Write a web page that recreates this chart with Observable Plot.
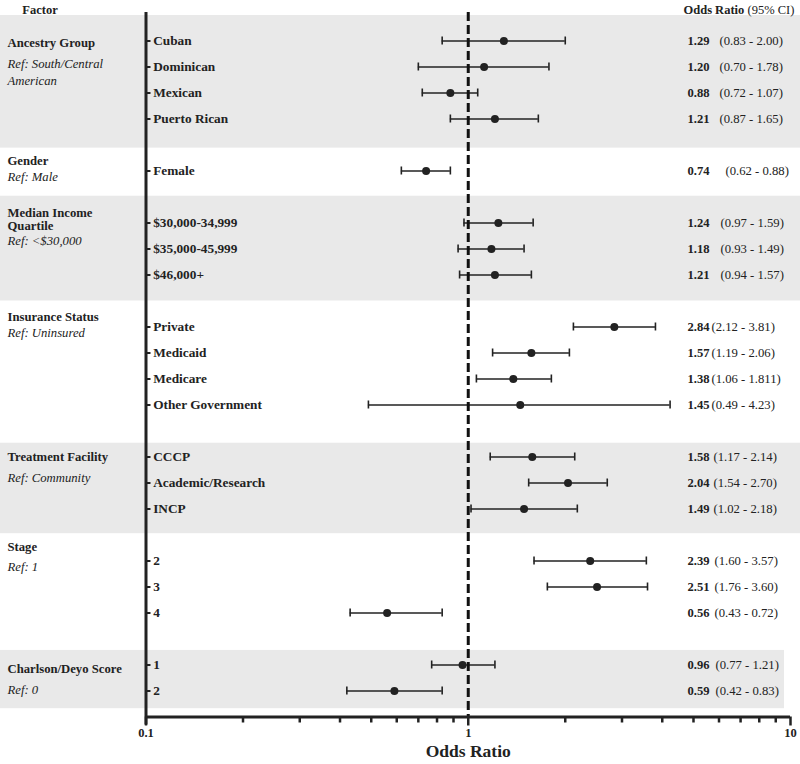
<!DOCTYPE html>
<html>
<head>
<meta charset="utf-8">
<script src="https://cdn.jsdelivr.net/npm/d3@7"></script>
<script src="https://cdn.jsdelivr.net/npm/@observablehq/plot@0.6"></script>
<style>
  html, body { margin: 0; padding: 0; background: #fff; }
  #chart svg { display: block; }
</style>
</head>
<body>
<div id="chart"></div>
<script>
// ---------------- data ----------------
const groupNames = ["Ancestry Group", "Gender", "Median Income\nQuartile", "Insurance Status",
  "Treatment Facility", "Stage", "Charlson/Deyo Score"];
const groupRefs = ["Ref: South/Central\nAmerican", "Ref: Male", "Ref: <$30,000", "Ref: Uninsured",
  "Ref: Community", "Ref: 1", "Ref: 0"];
const groupSizes = [4, 1, 3, 4, 3, 3, 2];
const categories = ["Cuban", "Dominican", "Mexican", "Puerto Rican", "Female",
  "$30,000-34,999", "$35,000-45,999", "$46,000+",
  "Private", "Medicaid", "Medicare", "Other Government",
  "CCCP", "Academic/Research", "INCP", "2", "3", "4", "1", "2"];
// values as drawn in the picture
const oddsRatio = [1.29, 1.12, 0.88, 1.21, 0.74, 1.24, 1.18, 1.21, 2.84, 1.57, 1.38, 1.45,
  1.58, 2.04, 1.49, 2.39, 2.51, 0.56, 0.96, 0.59];
const ciLow = [0.83, 0.70, 0.72, 0.88, 0.62, 0.97, 0.93, 0.94, 2.12, 1.19, 1.06, 0.49,
  1.17, 1.54, 1.02, 1.60, 1.76, 0.43, 0.77, 0.42];
const ciHigh = [2.00, 1.78, 1.07, 1.65, 0.88, 1.59, 1.49, 1.57, 3.81, 2.06, 1.811, 4.23,
  2.14, 2.70, 2.18, 3.57, 3.60, 0.83, 1.21, 0.83];
// printed labels
const orLabels = ["1.29", "1.20", "0.88", "1.21", "0.74", "1.24", "1.18", "1.21", "2.84", "1.57",
  "1.38", "1.45", "1.58", "2.04", "1.49", "2.39", "2.51", "0.56", "0.96", "0.59"];
const ciLabels = ["(0.83 - 2.00)", "(0.70 - 1.78)", "(0.72 - 1.07)", "(0.87 - 1.65)", "(0.62 - 0.88)",
  "(0.97 - 1.59)", "(0.93 - 1.49)", "(0.94 - 1.57)", "(2.12 - 3.81)", "(1.19 - 2.06)",
  "(1.06 - 1.811)", "(0.49 - 4.23)", "(1.17 - 2.14)", "(1.54 - 2.70)", "(1.02 - 2.18)",
  "(1.60 - 3.57)", "(1.76 - 3.60)", "(0.43 - 0.72)", "(0.77 - 1.21)", "(0.42 - 0.83)"];
const majorTicks = [0.1, 1, 10];
const xTickLabels = ["0.1", "1", "10"];
const minorTicks = [0.2, 0.3, 0.4, 0.5, 0.6, 0.7, 0.8, 0.9, 2, 3, 4, 5, 6, 7, 8, 9];

// ---------------- layout (row units) ----------------
const rows = [];
{
  let r = 0, k = 0;
  groupSizes.forEach((n, g) => {
    for (let j = 0; j < n; j++, k++, r++) {
      rows.push({g, row: r, cat: categories[k], or: oddsRatio[k], lo: ciLow[k], hi: ciHigh[k],
        orLabel: orLabels[k], ciLabel: ciLabels[k]});
    }
    r++; // blank row between groups
  });
}
const bands = [
  {g: 0, y1: -0.98, y2: 4.12},
  {g: 2, y1: 5.97, y2: 10.0},
  {g: 4, y1: 15.47, y2: 18.95},
  {g: 6, y1: 23.44, y2: 25.68}
];
const titleRows = [0.085, 4.596, 6.846, 10.596, 15.98, 19.44, 24.13];
const refRows = [1.154, 5.173, 7.635, 11.162, 16.738, 20.17, 24.89];
const ciDx = [-71, -65, -70, -79, -77, -76, -75];
const groupLabels = groupNames.map((name, g) => ({g, name, ref: groupRefs[g], t: titleRows[g], r: refRows[g]}));

const yDomain = [-1.096, 26.0];
const ink = "#222";
const serif = "Liberation Serif, Times New Roman, serif";

const textBase = {fontFamily: serif, fill: ink};

const marks = [
  // shaded bands
  Plot.rect(bands.filter(d => d.g !== 6), {y1: "y1", y2: "y2", fill: "#e9e9e9", insetLeft: -145.5, insetRight: -10}),
  Plot.rect(bands.filter(d => d.g === 6), {y1: "y1", y2: "y2", fill: "#e9e9e9", insetLeft: -145.5, insetRight: 6}),
  // error bars
  Plot.ruleY(rows, {y: "row", x1: "lo", x2: "hi", stroke: ink, strokeWidth: 1.6}),
  Plot.ruleX(rows, {x: "lo", y1: "row", y2: "row", insetTop: -4, insetBottom: -4, stroke: ink, strokeWidth: 1.6}),
  Plot.ruleX(rows, {x: "hi", y1: "row", y2: "row", insetTop: -4, insetBottom: -4, stroke: ink, strokeWidth: 1.6}),
  // reference line at 1
  Plot.ruleX([1], {stroke: "#111", strokeWidth: 3, strokeDasharray: "9,4"}),
  // points
  Plot.dot(rows, {x: "or", y: "row", r: 4, fill: ink, stroke: "none"}),
  // axes
  Plot.ruleX([0.1], {stroke: ink, strokeWidth: 3, insetBottom: -8}),
  Plot.ruleY([yDomain[1]], {stroke: ink, strokeWidth: 3}),
  Plot.axisX({ticks: minorTicks, tickSize: 6, strokeWidth: 2.5, stroke: ink, tickFormat: () => ""}),
  Plot.axisX({ticks: majorTicks, tickSize: 9, strokeWidth: 2.5, stroke: ink, tickPadding: 2,
    tickFormat: d => xTickLabels[majorTicks.indexOf(d)], fontFamily: serif, fontSize: 12.5, fontWeight: "bold", fill: ink}),
  Plot.ruleY(rows, {y: "row", x1: () => 0.1, x2: () => 0.1, insetRight: -5, stroke: ink, strokeWidth: 2}),
  // x-axis title
  Plot.text(["Odds Ratio"], {x: () => 1, frameAnchor: "bottom", dy: 39.5, text: d => d, ...textBase, fontSize: 17.5, fontWeight: "bold"}),
  // category labels
  Plot.text(rows, {y: "row", text: "cat", frameAnchor: "left", dx: 7.2, textAnchor: "start", ...textBase, fontSize: 13.3, fontWeight: "bold"}),
  // group titles and refs
  Plot.text(groupLabels, {y: "t", text: "name", frameAnchor: "left", dx: -138.5, textAnchor: "start", lineHeight: 1.03, ...textBase, fontSize: 12.7, fontWeight: "bold"}),
  Plot.text(groupLabels, {y: "r", text: "ref", frameAnchor: "left", dx: -138.5, textAnchor: "start", lineHeight: 1.34, ...textBase, fontSize: 12.7, fontStyle: "italic"}),
  // odds ratio labels
  Plot.text(rows, {y: "row", text: "orLabel", frameAnchor: "right", dx: -103, textAnchor: "start", ...textBase, fontSize: 12.6, fontWeight: "bold"}),
  ...ciDx.map((dx, g) => Plot.text(rows.filter(d => d.g === g), {y: "row", text: "ciLabel", frameAnchor: "right", dx, textAnchor: "start", ...textBase, fontSize: 12.7})),
  // headers
  Plot.text(["Factor"], {frameAnchor: "top-left", dx: -106, dy: -7, text: d => d, textAnchor: "middle", ...textBase, fontSize: 12.5, fontWeight: "bold"}),
  Plot.text(["Odds Ratio"], {frameAnchor: "top-right", dx: -107, dy: -7, text: d => d, textAnchor: "start", ...textBase, fontSize: 12.5, fontWeight: "bold"}),
  Plot.text(["(95% CI)"], {frameAnchor: "top-right", dx: -43, dy: -7, text: d => d, textAnchor: "start", ...textBase, fontSize: 12.5})
];

const chart = Plot.plot({
  width: 800,
  height: 764,
  marginLeft: 145.5,
  marginRight: 10,
  marginTop: 12,
  marginBottom: 47.5,
  style: {fontFamily: serif, background: "#fff", overflow: "visible"},
  x: {type: "log", domain: [0.1, 10]},
  y: {domain: yDomain, reverse: true, axis: null},
  marks
});
document.getElementById("chart").appendChild(chart);
</script>
</body>
</html>
